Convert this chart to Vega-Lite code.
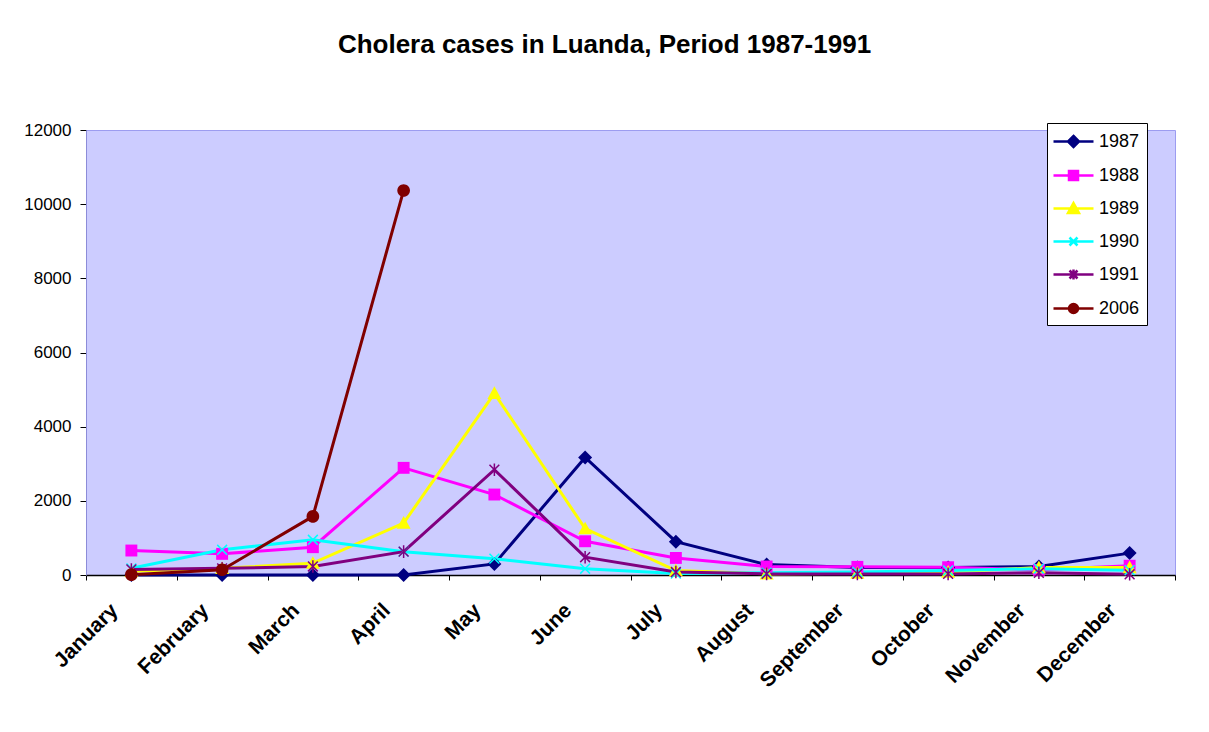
{
  "$schema": "https://vega.github.io/schema/vega-lite/v6.json",
  "width": 1089,
  "height": 445,
  "autosize": "none",
  "padding": {"left": 86, "top": 130, "right": 34, "bottom": 157},
  "background": "white",
  "title": {
    "text": "Cholera cases in Luanda, Period 1987-1991",
    "font": "Liberation Sans",
    "fontSize": 26,
    "fontWeight": "bold",
    "color": "black",
    "anchor": "middle",
    "dx": -26,
    "offset": 63
  },
  "data": {
    "values": [
      {"month": "January", "year": "1987", "cases": 0},
      {"month": "February", "year": "1987", "cases": 0},
      {"month": "March", "year": "1987", "cases": 0},
      {"month": "April", "year": "1987", "cases": 0},
      {"month": "May", "year": "1987", "cases": 300},
      {"month": "June", "year": "1987", "cases": 3170},
      {"month": "July", "year": "1987", "cases": 900},
      {"month": "August", "year": "1987", "cases": 280},
      {"month": "September", "year": "1987", "cases": 200},
      {"month": "October", "year": "1987", "cases": 200},
      {"month": "November", "year": "1987", "cases": 230},
      {"month": "December", "year": "1987", "cases": 590},
      {"month": "January", "year": "1988", "cases": 660},
      {"month": "February", "year": "1988", "cases": 570},
      {"month": "March", "year": "1988", "cases": 750},
      {"month": "April", "year": "1988", "cases": 2890},
      {"month": "May", "year": "1988", "cases": 2170},
      {"month": "June", "year": "1988", "cases": 910},
      {"month": "July", "year": "1988", "cases": 460},
      {"month": "August", "year": "1988", "cases": 230},
      {"month": "September", "year": "1988", "cases": 220},
      {"month": "October", "year": "1988", "cases": 210},
      {"month": "November", "year": "1988", "cases": 140},
      {"month": "December", "year": "1988", "cases": 250},
      {"month": "January", "year": "1989", "cases": 100},
      {"month": "February", "year": "1989", "cases": 180},
      {"month": "March", "year": "1989", "cases": 320},
      {"month": "April", "year": "1989", "cases": 1400},
      {"month": "May", "year": "1989", "cases": 4900},
      {"month": "June", "year": "1989", "cases": 1250},
      {"month": "July", "year": "1989", "cases": 120},
      {"month": "August", "year": "1989", "cases": 30},
      {"month": "September", "year": "1989", "cases": 50},
      {"month": "October", "year": "1989", "cases": 80},
      {"month": "November", "year": "1989", "cases": 200},
      {"month": "December", "year": "1989", "cases": 200},
      {"month": "January", "year": "1990", "cases": 180},
      {"month": "February", "year": "1990", "cases": 680},
      {"month": "March", "year": "1990", "cases": 950},
      {"month": "April", "year": "1990", "cases": 630},
      {"month": "May", "year": "1990", "cases": 440},
      {"month": "June", "year": "1990", "cases": 170},
      {"month": "July", "year": "1990", "cases": 40},
      {"month": "August", "year": "1990", "cases": 60},
      {"month": "September", "year": "1990", "cases": 80},
      {"month": "October", "year": "1990", "cases": 120},
      {"month": "November", "year": "1990", "cases": 170},
      {"month": "December", "year": "1990", "cases": 130},
      {"month": "January", "year": "1991", "cases": 150},
      {"month": "February", "year": "1991", "cases": 180},
      {"month": "March", "year": "1991", "cases": 230},
      {"month": "April", "year": "1991", "cases": 630},
      {"month": "May", "year": "1991", "cases": 2840},
      {"month": "June", "year": "1991", "cases": 480},
      {"month": "July", "year": "1991", "cases": 80},
      {"month": "August", "year": "1991", "cases": 30},
      {"month": "September", "year": "1991", "cases": 30},
      {"month": "October", "year": "1991", "cases": 30},
      {"month": "November", "year": "1991", "cases": 60},
      {"month": "December", "year": "1991", "cases": 20},
      {"month": "January", "year": "2006", "cases": 10},
      {"month": "February", "year": "2006", "cases": 140},
      {"month": "March", "year": "2006", "cases": 1580},
      {"month": "April", "year": "2006", "cases": 10370}
    ]
  },
  "encoding": {
    "x": {
      "field": "month",
      "type": "nominal",
      "sort": ["January", "February", "March", "April", "May", "June", "July", "August", "September", "October", "November", "December"],
      "scale": {"type": "band", "paddingInner": 0, "paddingOuter": 0},
      "axis": {
        "title": null,
        "tickBand": "extent",
        "labelAngle": -45,
        "labelAlign": "right",
        "labelBaseline": "middle",
        "labelFont": "Liberation Sans",
        "labelFontWeight": "bold",
        "labelFontSize": 21,
        "labelColor": "black",
        "labelPadding": 27,
        "labelOffset": -17,
        "tickColor": "black",
        "tickSize": 5,
        "domainColor": "black",
        "domainWidth": 1.5,
        "grid": false
      }
    },
    "y": {
      "field": "cases",
      "type": "quantitative",
      "scale": {"domain": [0, 12000], "nice": false},
      "axis": {
        "title": null,
        "values": [0, 2000, 4000, 6000, 8000, 10000, 12000],
        "grid": false,
        "labelFont": "Liberation Sans",
        "labelFontSize": 17,
        "labelColor": "black",
        "labelPadding": 9,
        "tickColor": "black",
        "tickSize": 6,
        "domainColor": "#8c8cd8",
        "format": "d"
      }
    },
    "color": {
      "field": "year",
      "type": "nominal",
      "scale": {
        "domain": ["1987", "1988", "1989", "1990", "1991", "2006"],
        "range": ["#000080", "#FF00FF", "#FFFF00", "#00FFFF", "#800080", "#800000"]
      },
      "legend": {
        "title": null,
        "orient": "none",
        "legendX": 961,
        "legendY": -7,
        "fillColor": "white",
        "strokeColor": "black",
        "padding": 7,
        "symbolSize": 400,
        "symbolOffset": 8,
        "labelOffset": 14,
        "rowPadding": 12,
        "labelFont": "Liberation Sans",
        "labelFontSize": 18,
        "labelColor": "black",
        "encode": {
          "symbols": {
            "update": {
              "shape": {"signal": "datum.value === '1987' ? 'M-2,0H2M0,-0.55L0.55,0L0,0.55L-0.55,0Z' : datum.value === '1988' ? 'M-2,0H2M-0.45,-0.45H0.45V0.45H-0.45Z' : datum.value === '1989' ? 'M-2,0H2M0,-0.55L0.55,0.45H-0.55Z' : datum.value === '1990' ? 'M-2,0H2M-0.4,-0.4L0.4,0.4M-0.4,0.4L0.4,-0.4' : datum.value === '1991' ? 'M-2,0H2M-0.4,-0.4L0.4,0.4M-0.4,0.4L0.4,-0.4M0,-0.5V0.5' : 'M-2,0H2M0.45,0A0.45,0.45 0 1,1 -0.45,0A0.45,0.45 0 1,1 0.45,0Z'"},
              "fill": {"scale": "color", "field": "value"},
              "stroke": {"scale": "color", "field": "value"},
              "strokeWidth": {"value": 2.5},
              "fillOpacity": {"value": 1},
              "opacity": {"value": 1}
            }
          }
        }
      }
    }
  },
  "layer": [
    {"mark": {"type": "line", "strokeWidth": 3}},
    {
      "transform": [{"filter": "datum.year === '1987'"}],
      "mark": {"type": "point", "filled": true, "size": 196, "opacity": 1, "shape": "M0,-1L1,0L0,1L-1,0Z"}
    },
    {
      "transform": [{"filter": "datum.year === '1988'"}],
      "mark": {"type": "point", "filled": true, "size": 196, "opacity": 1, "shape": "M-0.85,-0.85H0.85V0.85H-0.85Z"}
    },
    {
      "transform": [{"filter": "datum.year === '1989'"}],
      "mark": {"type": "point", "filled": true, "size": 196, "opacity": 1, "shape": "M0,-1L1,0.8H-1Z"}
    },
    {
      "transform": [{"filter": "datum.year === '1990'"}],
      "mark": {"type": "point", "filled": false, "size": 196, "opacity": 1, "strokeWidth": 1.5, "shape": "M-0.7,-0.7L0.7,0.7M-0.7,0.7L0.7,-0.7"}
    },
    {
      "transform": [{"filter": "datum.year === '1991'"}],
      "mark": {"type": "point", "filled": false, "size": 196, "opacity": 1, "strokeWidth": 1.5, "shape": "M-0.7,-0.7L0.7,0.7M-0.7,0.7L0.7,-0.7M0,-0.9V0.9"}
    },
    {
      "transform": [{"filter": "datum.year === '2006'"}],
      "mark": {"type": "point", "filled": true, "size": 196, "opacity": 1, "shape": "M0.9,0A0.9,0.9 0 1,1 -0.9,0A0.9,0.9 0 1,1 0.9,0Z"}
    }
  ],
  "config": {
    "view": {"fill": "#CCCCFF", "stroke": "#9c9cf0", "strokeWidth": 1}
  }
}
